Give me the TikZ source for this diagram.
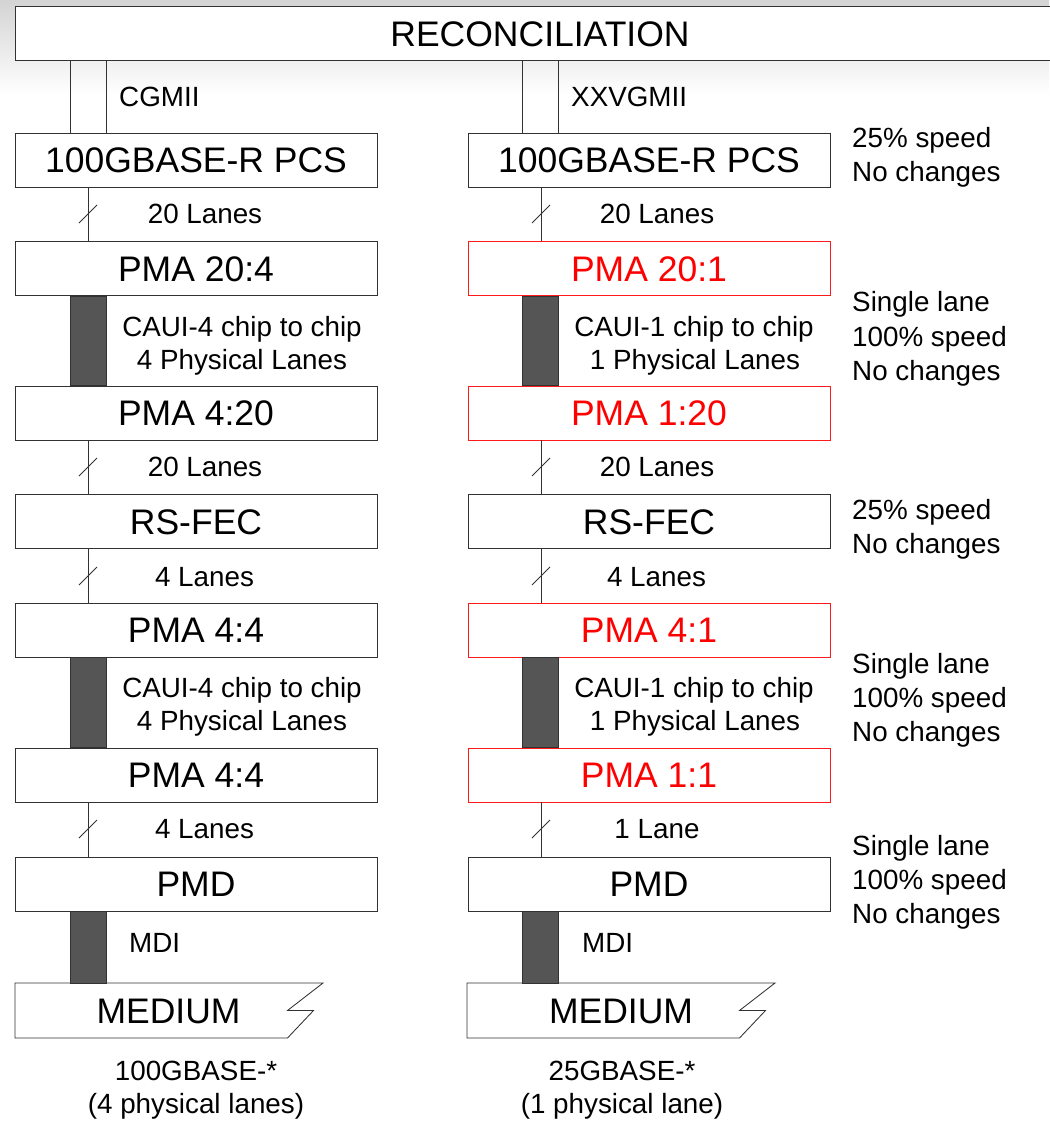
\documentclass[tikz,border=0pt]{standalone}
\usepackage{fontspec}
\setmainfont{Liberation Sans}
\newcommand\bigf{\fontsize{35.5}{40}\selectfont}
\newcommand\smallf{\fontsize{27.8}{34}\selectfont}
\definecolor{barc}{RGB}{85,85,85}
\definecolor{linec}{RGB}{50,50,50}
\begin{document}
\begin{tikzpicture}[x=1pt,y=-1pt,
  box/.style={draw=linec, line width=0.85pt, fill=white, minimum width=362pt, minimum height=54pt, inner sep=0pt, font=\bigf, text height=25.4pt, text depth=0pt},
  redbox/.style={box, draw=red!90, text=red},
  medtext/.style={font=\bigf, inner sep=0pt, text height=25.4pt, text depth=0pt},
  lbl/.style={font=\smallf, inner sep=0pt, anchor=base},
  note/.style={font=\smallf, inner sep=0pt, anchor=base west},
  wire/.style={draw=linec, line width=0.75pt},
  bar/.style={draw=linec, fill=barc, line width=0.75pt},
  medshape/.style={draw=linec, line width=0.85pt, fill=white, line join=miter}
]
\useasboundingbox (0,0) rectangle (1049,1121);
\shade[top color=black!17, bottom color=white] (0,0) rectangle (1049,95);

% columns
\coordinate (xL) at (88,0);
\coordinate (xR) at (541,0);
\coordinate (bL1) at (70,0);
\coordinate (bL2) at (106,0);
\coordinate (bR1) at (522,0);
\coordinate (bR2) at (558,0);

\node[box, minimum width=1050pt] (rec) at (540,33.5) {RECONCILIATION};

% left column
\node[box] (pcsL)  at (196,160)   {100GBASE-R PCS};
\node[box] (pmaaL) at (196,268.5) {PMA 20:4};
\node[box] (pmabL) at (196,413)   {PMA 4:20};
\node[box] (fecL)  at (196,521.5) {RS-FEC};
\node[box] (pmacL) at (196,630)   {PMA 4:4};
\node[box] (pmadL) at (196,775)   {PMA 4:4};
\node[box] (pmdL)  at (196,884)   {PMD};
\draw[medshape] (15,983) -- (323,983) -- (287.5,1010.5) -- (313.5,1010.5) -- (287.5,1038) -- (15,1038) -- cycle;
\node[medtext] (medL) at (168.5,1010.5) {MEDIUM};
\coordinate (medLt) at (15,983);

% right column
\node[box] (pcsR)  at (649,160)   {100GBASE-R PCS};
\node[redbox] (pmaaR) at (649,268.5) {PMA 20:1};
\node[redbox] (pmabR) at (649,413)   {PMA 1:20};
\node[box] (fecR)  at (649,521.5) {RS-FEC};
\node[redbox] (pmacR) at (649,630)   {PMA 4:1};
\node[redbox] (pmadR) at (649,775)   {PMA 1:1};
\node[box] (pmdR)  at (649,884)   {PMD};
\draw[medshape] (467,983) -- (775,983) -- (739.5,1010.5) -- (765.5,1010.5) -- (739.5,1038) -- (467,1038) -- cycle;
\node[medtext] (medR) at (621,1010.5) {MEDIUM};
\coordinate (medRt) at (467,983);

% CGMII / XXVGMII
\draw[wire] (rec.south -| bL1) -- (pcsL.north -| bL1);
\draw[wire] (rec.south -| bL2) -- (pcsL.north -| bL2);
\draw[wire] (rec.south -| bR1) -- (pcsR.north -| bR1);
\draw[wire] (rec.south -| bR2) -- (pcsR.north -| bR2);

% single wires with slashes
\foreach \a/\b/\y in {pcsL/pmaaL/214, pmabL/fecL/467, fecL/pmacL/576, pmadL/pmdL/829}{
  \draw[wire] (\a.south -| xL) -- (\b.north -| xL);
  \draw[wire] (79,\y+9) -- (97,\y-9);
}
\foreach \a/\b/\y in {pcsR/pmaaR/214, pmabR/fecR/467, fecR/pmacR/576, pmadR/pmdR/829}{
  \draw[wire] (\a.south -| xR) -- (\b.north -| xR);
  \draw[wire] (532,\y+9) -- (550,\y-9);
}

% bars
\path[bar] (pmaaL.south -| bL1) rectangle (pmabL.north -| bL2);
\path[bar] (pmacL.south -| bL1) rectangle (pmadL.north -| bL2);
\path[bar] (pmdL.south -| bL1) rectangle (medLt -| bL2);
\path[bar] (pmaaR.south -| bR1) rectangle (pmabR.north -| bR2);
\path[bar] (pmacR.south -| bR1) rectangle (pmadR.north -| bR2);
\path[bar] (pmdR.south -| bR1) rectangle (medRt -| bR2);

% left labels
\node[note] (cgmii) at (119,107) {CGMII};
\node[lbl] (l1) at (205,223) {20 Lanes};
\node[lbl] (l2) at (242,336) {CAUI-4 chip to chip};
\node[lbl] (l3) at (242,369) {4 Physical Lanes};
\node[lbl] (l4) at (205,476) {20 Lanes};
\node[lbl] (l5) at (204.5,586) {4 Lanes};
\node[lbl] (l6) at (242,697) {CAUI-4 chip to chip};
\node[lbl] (l7) at (242,730) {4 Physical Lanes};
\node[lbl] (l8) at (204.5,838) {4 Lanes};
\node[note] (mdiL) at (129,952) {MDI};
\node[lbl] (capL1) at (196,1080) {100GBASE-*};
\node[lbl] (capL2) at (196,1113) {(4 physical lanes)};

% right labels
\node[note] (xxv) at (571,107) {XXVGMII};
\node[lbl] (r1) at (657,223) {20 Lanes};
\node[lbl] (r2) at (694,336) {CAUI-1 chip to chip};
\node[lbl] (r3) at (695,369) {1 Physical Lanes};
\node[lbl] (r4) at (657,476) {20 Lanes};
\node[lbl] (r5) at (656.5,586) {4 Lanes};
\node[lbl] (r6) at (694,697) {CAUI-1 chip to chip};
\node[lbl] (r7) at (695,730) {1 Physical Lanes};
\node[lbl] (r8) at (657,838) {1 Lane};
\node[note] (mdiR) at (582,952) {MDI};
\node[lbl] (capR1) at (622,1080) {25GBASE-*};
\node[lbl] (capR2) at (622,1113) {(1 physical lane)};

% notes
\node[note] (n1a) at (852,147) {25\% speed};
\node[note] (n1b) at (852,181) {No changes};
\node[note] (n2a) at (852,311) {Single lane};
\node[note] (n2b) at (852,346) {100\% speed};
\node[note] (n2c) at (852,380) {No changes};
\node[note] (n3a) at (852,519) {25\% speed};
\node[note] (n3b) at (852,553) {No changes};
\node[note] (n4a) at (852,673) {Single lane};
\node[note] (n4b) at (852,707) {100\% speed};
\node[note] (n4c) at (852,741) {No changes};
\node[note] (n5a) at (852,855) {Single lane};
\node[note] (n5b) at (852,889) {100\% speed};
\node[note] (n5c) at (852,923) {No changes};
\end{tikzpicture}
\end{document}
